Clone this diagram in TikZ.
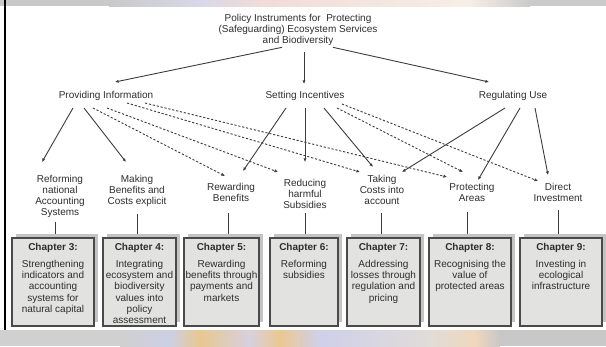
\documentclass[tikz,border=0pt]{standalone}
\usepackage{fontspec}
\setmainfont{Liberation Sans}
\usetikzlibrary{arrows.meta,calc,shadows}
\definecolor{txt}{HTML}{2E2E2E}
\definecolor{linec}{HTML}{3C3C3C}
\definecolor{boxborder}{HTML}{4A4A4A}
\definecolor{boxfill}{HTML}{E2E2E0}
\definecolor{shadowc}{HTML}{C4C4C4}
\definecolor{greyA}{HTML}{C9C9C9}
\definecolor{greyB}{HTML}{CBCBCB}
\definecolor{greyC}{HTML}{D0D0D0}
\definecolor{greyD}{HTML}{C8C8C8}
\tikzset{
  lbl/.style={font=\fontsize{10}{11}\selectfont, text=txt, align=center, inner sep=0pt},
  conn/.style={draw=linec, line width=0.9pt, -{Latex[length=3.6pt,width=3.2pt]}},
  dconn/.style={conn, dash pattern=on 2.2pt off 1.8pt},
  plainline/.style={draw=linec, line width=0.9pt},
  chbox/.style={draw=boxborder, line width=1.3pt, fill=boxfill, inner sep=0pt,
    minimum height=88pt,
    general shadow={fill=shadowc, shadow xshift=4pt, shadow yshift=4pt}},
  chtext/.style={font=\fontsize{10}{11.3}\selectfont, text=txt, align=center, inner sep=0pt, anchor=north},
}
\begin{document}
\begin{tikzpicture}[x=1pt,y=-1pt]
\useasboundingbox (0,0) rectangle (606,346);
\fill[white] (0,0) rectangle (606,346);
% top strip
\fill[greyA] (0,0) rectangle (110,6);
\shade[left color={rgb,255:red,201;green,201;blue,201}, right color={rgb,255:red,216;green,216;blue,234}] (109,0) rectangle (200,6);
\shade[left color={rgb,255:red,216;green,216;blue,234}, right color={rgb,255:red,240;green,220;blue,216}] (199,0) rectangle (260,6);
\shade[left color={rgb,255:red,240;green,220;blue,216}, right color={rgb,255:red,246;green,238;blue,230}] (259,0) rectangle (470,6);
\shade[left color={rgb,255:red,246;green,238;blue,230}, right color={rgb,255:red,203;green,203;blue,203}] (469,0) rectangle (530,6);
\fill[greyB] (529,0) rectangle (606,6);
% bottom strip
\fill[greyC] (0,330) rectangle (121,346);
\shade[left color={rgb,255:red,208;green,208;blue,208}, right color={rgb,255:red,204;green,208;blue,230}] (120,330) rectangle (170,346);
\shade[left color={rgb,255:red,204;green,208;blue,230}, right color={rgb,255:red,232;green,200;blue,144}] (169,330) rectangle (200,346);
\shade[left color={rgb,255:red,232;green,200;blue,144}, right color={rgb,255:red,214;green,208;blue,224}] (199,330) rectangle (250,346);
\shade[left color={rgb,255:red,214;green,208;blue,224}, right color={rgb,255:red,236;green,200;blue,144}] (249,330) rectangle (280,346);
\shade[left color={rgb,255:red,236;green,200;blue,144}, right color={rgb,255:red,207;green,208;blue,234}] (279,330) rectangle (320,346);
\shade[left color={rgb,255:red,207;green,208;blue,234}, right color={rgb,255:red,224;green,220;blue,216}] (319,330) rectangle (430,346);
\shade[left color={rgb,255:red,224;green,220;blue,216}, right color={rgb,255:red,240;green,216;blue,188}] (429,330) rectangle (475,346);
\shade[left color={rgb,255:red,240;green,216;blue,188}, right color={rgb,255:red,200;green,200;blue,200}] (474,330) rectangle (500,346);
\fill[greyD] (499,330) rectangle (606,346);
% left black bar
\fill[black] (3.5,0) rectangle (6,330);

% title and categories
\node[lbl, anchor=north] (title) at (298,14.3) {Policy Instruments for\ \ Protecting\\(Safeguarding) Ecosystem Services\\and Biodiversity};
\node[lbl, anchor=base] (pi) at (106,98.6) {Providing Information};
\node[lbl, anchor=base] (si) at (305,98.6) {Setting Incentives};
\node[lbl, anchor=base] (ru) at (513,98.6) {Regulating Use};

% second level labels
\node[lbl, anchor=north] (l1) at (60,175.3) {Reforming\\national\\Accounting\\Systems};
\node[lbl, anchor=north] (l2) at (137,175.3) {Making\\Benefits and\\Costs explicit};
\node[lbl, anchor=north] (l3) at (231,183.3) {Rewarding\\Benefits};
\node[lbl, anchor=north] (l4) at (305,179.3) {Reducing\\harmful\\Subsidies};
\node[lbl, anchor=north] (l5) at (382,175.3) {Taking\\Costs into\\account};
\node[lbl, anchor=north] (l6) at (472,183.3) {Protecting\\Areas};
\node[lbl, anchor=north] (l7) at (558,183.3) {Direct\\Investment};

% chapter boxes
\node[chbox, minimum width=82pt] (c3) at (53,282) {};
\node[chbox, minimum width=73pt] (c4) at (139.5,282) {};
\node[chbox, minimum width=75pt] (c5) at (221.5,282) {};
\node[chbox, minimum width=68pt] (c6) at (304,282) {};
\node[chbox, minimum width=73pt] (c7) at (383.5,282) {};
\node[chbox, minimum width=82pt] (c8) at (470,282) {};
\node[chbox, minimum width=82pt] (c9) at (561,282) {};

\node[chtext] (t3) at ($(c3.north)+(0,5.3)$) {\textbf{Chapter 3:}\\[5.7pt]Strengthening\\indicators and\\accounting\\systems for\\natural capital};
\node[chtext] (t4) at ($(c4.north)+(0,5.3)$) {\textbf{Chapter 4:}\\[5.7pt]Integrating\\ecosystem and\\biodiversity\\values into\\policy\\assessment};
\node[chtext] (t5) at ($(c5.north)+(0,5.3)$) {\textbf{Chapter 5:}\\[5.7pt]Rewarding\\benefits through\\payments and\\markets};
\node[chtext] (t6) at ($(c6.north)+(0,5.3)$) {\textbf{Chapter 6:}\\[5.7pt]Reforming\\subsidies};
\node[chtext] (t7) at ($(c7.north)+(0,5.3)$) {\textbf{Chapter 7:}\\[5.7pt]Addressing\\losses through\\regulation and\\pricing};
\node[chtext] (t8) at ($(c8.north)+(0,5.3)$) {\textbf{Chapter 8:}\\[5.7pt]Recognising the\\value of\\protected areas};
\node[chtext] (t9) at ($(c9.north)+(0,5.3)$) {\textbf{Chapter 9:}\\[5.7pt]Investing in\\ecological\\infrastructure};

% title arrows
\draw[conn] ($(title.south)+(-16,1.3)$) -- ($(pi.base)+(9,-16.6)$);
\draw[conn] ($(title.south)+(6,6.3)$) -- ($(si.base)+(-1,-14.6)$);
\draw[conn] ($(title.south)+(35,1.3)$) -- ($(ru.base)+(-24,-16.6)$);

% Providing Information
\draw[conn] ($(pi.base)+(-33,9.4)$) -- ($(l1.north)+(-18,-13.3)$);
\draw[conn] ($(pi.base)+(-22,9.4)$) -- ($(l2.north)+(-11,-13.3)$);
\draw[dconn] ($(pi.base)+(-13,9.4)$) -- ($(l3.north)+(-6,-7.3)$);
\draw[dconn] ($(pi.base)+(1,9.4)$) -- ($(l4.north)+(-27,-7.3)$);
\draw[dconn] ($(pi.base)+(21,4.4)$) -- ($(l5.north)+(-22,-3.3)$);
\draw[dconn] ($(pi.base)+(39,4.4)$) -- ($(l6.north)+(-25,-6.3)$);

% Setting Incentives
\draw[conn] ($(si.base)+(-19,9.4)$) -- ($(l3.north)+(12,-12.3)$);
\draw[conn] ($(si.base)+(0,9.4)$) -- ($(l4.north)+(0,-17.3)$);
\draw[conn] ($(si.base)+(19,9.4)$) -- ($(l5.north)+(-9,-8.3)$);
\draw[dconn] ($(si.base)+(32,9.4)$) -- ($(l6.north)+(-9,-11.3)$);
\draw[dconn] ($(si.base)+(37,5.4)$) -- ($(l7.north)+(-20,-2.3)$);

% Regulating Use
\draw[conn] ($(ru.base)+(-8,9.4)$) -- ($(l5.north)+(20,-3.3)$);
\draw[conn] ($(ru.base)+(7,9.4)$) -- ($(l6.north)+(6,-3.3)$);
\draw[conn] ($(ru.base)+(22,9.4)$) -- ($(l7.north)+(-10,-8.3)$);

% label to chapter lines
\draw[plainline] ($(l1.south)+(-5,4.3)$) -- ($(l1.south |- c3.north)+(-5,-3)$);
\draw[plainline] ($(l2.south)+(0,7.3)$) -- ($(l2.south |- c4.north)+(0,-3)$);
\draw[plainline] ($(l3.south)+(-3,11.4)$) -- ($(l3.south |- c5.north)+(-3,-3)$);
\draw[plainline] ($(l4.south)+(0,4.4)$) -- ($(l4.south |- c6.north)+(0,-3)$);
\draw[plainline] ($(l5.south)+(-1,8.4)$) -- ($(l5.south |- c7.north)+(-1,-3)$);
\draw[plainline] ($(l6.south)+(-5,10.4)$) -- ($(l6.south |- c8.north)+(-5,-3)$);
\draw[plainline] ($(l7.south)+(0,8.4)$) -- ($(l7.south |- c9.north)+(0,-3)$);
\end{tikzpicture}
\end{document}
